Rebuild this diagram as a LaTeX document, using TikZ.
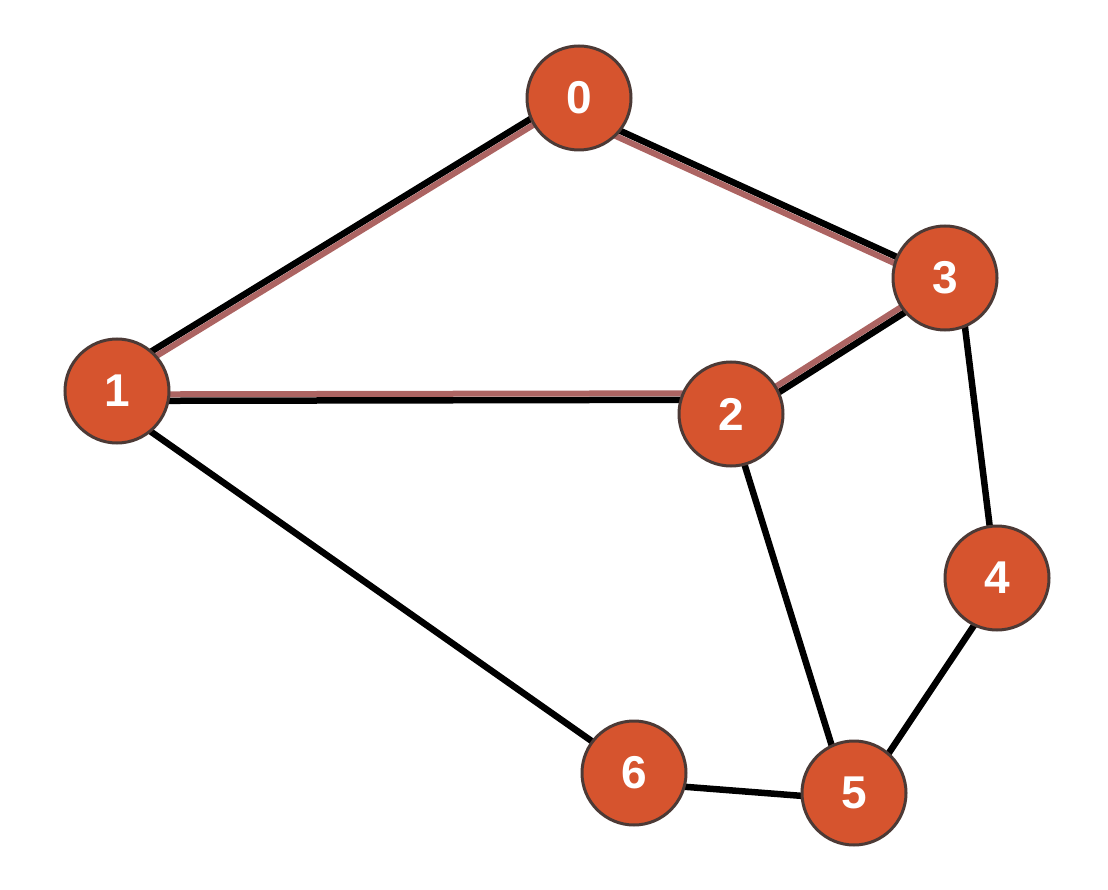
\documentclass[tikz,border=0pt]{standalone}
\usepackage{fontspec}
\setmainfont{Liberation Sans}
\usetikzlibrary{backgrounds}
\definecolor{nodefill}{RGB}{214,84,46}
\definecolor{nodeborder}{RGB}{76,58,54}
\definecolor{rose}{RGB}{172,100,98}
\begin{document}
\begin{tikzpicture}[x=1pt,y=-1pt,
  vertex/.style={circle,fill=nodefill,draw=nodeborder,line width=3pt,minimum size=104pt,inner sep=0pt,text=white,font=\fontsize{46}{46}\selectfont\bfseries},
  edge/.style={line width=6.5pt,black,shorten <=-8pt,shorten >=-8pt},
  hl/.style={line width=6pt,rose,shorten <=-8pt,shorten >=-8pt}]
\useasboundingbox (0,0) rectangle (1108,890);
\node[vertex] (n0) at (579,98) {0};
\node[vertex] (n1) at (117,391) {1};
\node[vertex] (n2) at (731,414) {2};
\node[vertex] (n3) at (945,278) {3};
\node[vertex] (n4) at (997,578) {4};
\node[vertex] (n5) at (854,793) {5};
\node[vertex] (n6) at (634,773) {6};
\begin{scope}[on background layer]
  % highlighted edges
  \draw[edge,transform canvas={shift={(-1.7,-2.8)}}] (n1.45) -- (n0.207);
  \draw[hl,transform canvas={shift={(1.7,2.8)}}] (n1.45) -- (n0.207);
  \draw[edge,transform canvas={shift={(1.4,-3.0)}}] (n0.-42) -- (n3.160);
  \draw[hl,transform canvas={shift={(-1.4,3.0)}}] (n0.-42) -- (n3.160);
  \draw[edge,transform canvas={shift={(0,3.25)}}] (n1.-7) -- (n2.161.5);
  \draw[hl,transform canvas={shift={(0,-3.25)}}] (n1.-7) -- (n2.161.5);
  \draw[edge,transform canvas={shift={(1.7,2.75)}}] (n2.28) -- (n3.217);
  \draw[hl,transform canvas={shift={(-1.7,-2.75)}}] (n2.28) -- (n3.217);
  % plain edges
  \draw[edge] (n3.-68) -- (n4.98);
  \draw[edge] (n4.244) -- (n5.49);
  \draw[edge] (n2.-75) -- (n5.115);
  \draw[edge] (n1.-50) -- (n6.143.5);
  \draw[edge] (n6.-15) -- (n5.-177);
\end{scope}
\end{tikzpicture}
\end{document}
